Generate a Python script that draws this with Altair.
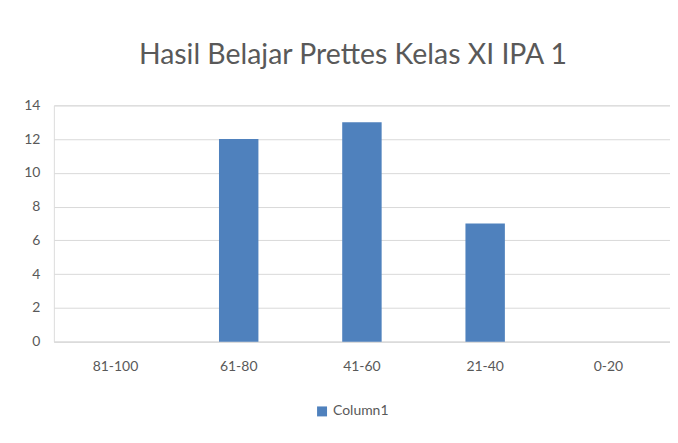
import altair as alt
import pandas as pd

categories = ["81-100", "61-80", "41-60", "21-40", "0-20"]
values = [0, 12, 13, 7, 0]
series = ["Column1"] * 5

df = pd.DataFrame({"Kelas": categories, "Jumlah": values, "Seri": series})

FONT = "Lato"
chart = alt.Chart(df).mark_bar(color="#4F81BD").encode(
    x=alt.X("Kelas:N", sort=categories, title=None,
            scale=alt.Scale(paddingInner=0.68, paddingOuter=0.34),
            axis=alt.Axis(labelAngle=0, ticks=False, domain=True, domainColor="#d9d9d9",
                          grid=False, labelPadding=18, labelFontSize=14,
                          labelColor="#595959", labelFont=FONT)),
    y=alt.Y("Jumlah:Q", title=None,
            scale=alt.Scale(domain=[0, 14]),
            axis=alt.Axis(values=list(range(0, 15, 2)), ticks=False, domain=False,
                          gridColor="#d9d9d9", labelPadding=14, labelFontSize=14,
                          labelColor="#595959", labelFont=FONT)),
    color=alt.Color("Seri:N", scale=alt.Scale(range=["#4F81BD"]),
                    legend=alt.Legend(title=None, orient="none", legendX=262, legendY=300,
                                      symbolType="square", symbolSize=100,
                                      labelFontSize=14, labelColor="#595959",
                                      labelFont=FONT, symbolStrokeWidth=0)),
).properties(
    width=618, height=237,
    title=alt.TitleParams("Hasil Belajar Prettes Kelas XI IPA 1", fontSize=28.5,
                          font=FONT, fontWeight="normal", color="#595959", offset=29, dx=-9),
    padding={"left": 46, "top": 97, "right": 0, "bottom": 90},
    autosize=alt.AutoSizeParams(type="none"),
).configure_view(stroke=None).configure(background="white")

chart.save("out.html", embed_options={"renderer": "svg", "actions": False})
